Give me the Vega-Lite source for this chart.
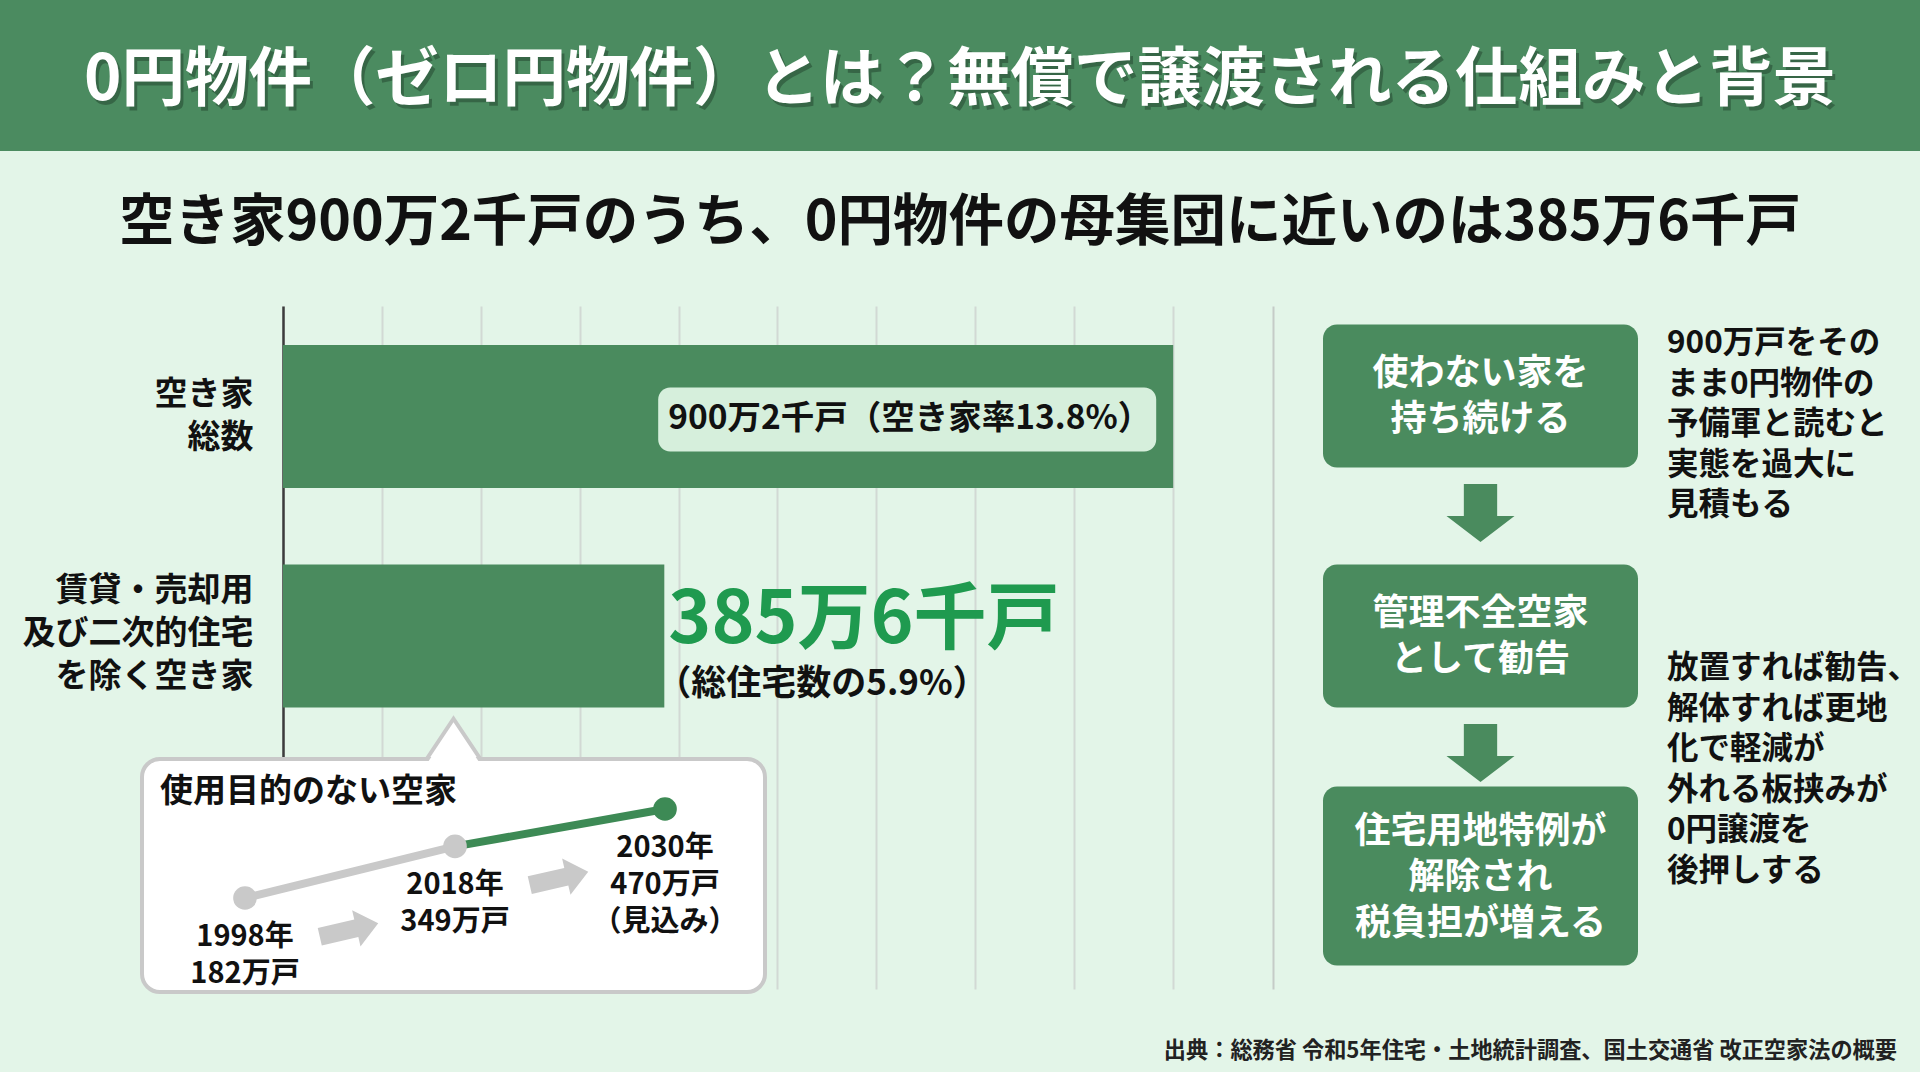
{
  "$schema": "https://vega.github.io/schema/vega-lite/v6.json",
  "width": 1920,
  "height": 1072,
  "autosize": {"type": "fit", "contains": "padding"},
  "padding": 0,
  "background": "#e3f5e8",
  "config": {
    "view": {"stroke": null},
    "font": "Noto Sans CJK JP",
    "text": {"font": "Noto Sans CJK JP", "fontWeight": "bold"},
    "axis": {"labelFont": "Noto Sans CJK JP"}
  },
  "resolve": {"scale": {"x": "independent", "y": "independent"}},
  "layer": [
    {
      "data": {"values": [{"band": "header", "title": "0円物件（ゼロ円物件）とは？無償で譲渡される仕組みと背景"}]},
      "encoding": {
        "x": {"field": "band", "type": "nominal", "axis": null, "scale": {"type": "band", "range": [0, 1920], "paddingInner": 0, "paddingOuter": 0}},
        "y": {"field": "band", "type": "nominal", "axis": null, "scale": {"type": "band", "range": [0, 151], "paddingInner": 0, "paddingOuter": 0}}
      },
      "layer": [
        {"mark": {"type": "rect", "color": "#4b8b60"}},
        {"mark": {"type": "text", "fontSize": 63.5, "color": "#1d3b27", "opacity": 0.45, "dx": 3, "dy": 9}, "encoding": {"text": {"field": "title"}}},
        {"mark": {"type": "text", "fontSize": 63.5, "color": "#ffffff", "dy": 5}, "encoding": {"text": {"field": "title"}}}
      ]
    },
    {
      "data": {"values": [{"band": "subtitle", "text": "空き家900万2千戸のうち、0円物件の母集団に近いのは385万6千戸"}]},
      "mark": {"type": "text", "fontSize": 55.5, "color": "#111111"},
      "encoding": {
        "x": {"field": "band", "type": "nominal", "axis": null, "scale": {"type": "band", "range": [0, 1920], "paddingInner": 0, "paddingOuter": 0}},
        "y": {"field": "band", "type": "nominal", "axis": null, "scale": {"type": "band", "range": [151, 295], "paddingInner": 0, "paddingOuter": 0}},
        "text": {"field": "text"}
      }
    },
    {
      "data": {"values": [
        {"kind": "total", "category": "空き家\n総数", "value": 900.2, "label": "900万2千戸（空き家率13.8%）", "note": ""},
        {"kind": "subset", "category": "賃貸・売却用\n及び二次的住宅\nを除く空き家", "value": 385.6, "label": "385万6千戸", "note": "（総住宅数の5.9%）"}
      ]},
      "encoding": {
        "x": {
          "field": "value", "type": "quantitative",
          "scale": {"domain": [0, 900], "range": [283, 1173], "nice": false, "zero": true},
          "axis": {"title": null, "orient": "top", "values": [0, 100, 200, 300, 400, 500, 600, 700, 800, 900], "labels": false, "ticks": false, "domain": false, "grid": true, "gridColor": "#d2d9d4", "gridWidth": 2}
        },
        "y": {
          "field": "category", "type": "nominal", "sort": null, "axis": null,
          "scale": {"type": "band", "range": [306, 989], "paddingInner": 0.349, "paddingOuter": 0.73, "align": 0.1216}
        }
      },
      "layer": [
        {
          "mark": {"type": "bar", "color": "#4a8b5e"},
          "encoding": {
            "y": {
              "field": "category", "type": "nominal", "sort": null,
              "axis": {
                "title": null, "orient": "left", "offset": -283, "ticks": false, "tickSize": 0, "grid": false,
                "domainColor": "#3c3c3c", "domainWidth": 2.5,
                "labelFontSize": 33, "labelFontWeight": "bold", "labelColor": "#111111", "labelPadding": 30, "labelLineHeight": 43, "labelLimit": 0,
                "labelExpr": "split(datum.label, '\\n')",
                "labelOffset": {"condition": {"test": "length(split(datum.label, '\\n')) > 2", "value": -45}, "value": -21}
              }
            }
          }
        },
        {
          "mark": {"type": "bar", "opacity": 0},
          "encoding": {
            "y": {
              "field": "category", "type": "nominal", "sort": null,
              "axis": {"title": null, "orient": "right", "offset": -647, "labels": false, "ticks": false, "grid": false, "domainColor": "#c5ccc7", "domainWidth": 2}
            }
          }
        },
        {
          "transform": [{"filter": "datum.kind == 'total'"}],
          "mark": {"type": "rect", "width": 498, "height": 64, "xOffset": -266, "yOffset": 3, "cornerRadius": 12, "color": "#d6efdc"}
        },
        {
          "transform": [{"filter": "datum.kind == 'total'"}],
          "mark": {"type": "text", "align": "right", "baseline": "middle", "dx": -22, "dy": 3, "fontSize": 33.5, "color": "#111111"},
          "encoding": {"text": {"field": "label"}}
        },
        {
          "transform": [{"filter": "datum.kind == 'subset'"}],
          "mark": {"type": "text", "align": "left", "baseline": "middle", "dx": 4, "dy": -15, "fontSize": 73, "color": "#1f9a4f"},
          "encoding": {"text": {"field": "label"}}
        },
        {
          "transform": [{"filter": "datum.kind == 'subset'"}],
          "mark": {"type": "text", "align": "left", "baseline": "middle", "dx": -8, "dy": 48, "fontSize": 35, "color": "#111111"},
          "encoding": {"text": {"field": "note"}}
        }
      ]
    },
    {
      "data": {"values": [{"panel": "使用目的のない空家"}]},
      "encoding": {
        "x": {"field": "panel", "type": "nominal", "axis": null, "scale": {"type": "band", "range": [142, 765], "paddingInner": 0, "paddingOuter": 0}},
        "y": {"field": "panel", "type": "nominal", "axis": null, "scale": {"type": "band", "range": [759, 992], "paddingInner": 0, "paddingOuter": 0}}
      },
      "layer": [
        {
          "mark": {"type": "point", "shape": "M-1,0.75L0,-0.75L1,0.75Z", "size": 2916, "filled": true, "fill": "#ffffff", "stroke": "#c9c9c9", "strokeWidth": 4, "opacity": 1, "yOffset": -20},
          "encoding": {"y": {"field": "panel", "type": "nominal", "axis": null, "bandPosition": 0}}
        },
        {"mark": {"type": "rect", "fill": "#ffffff", "stroke": "#c9c9c9", "strokeWidth": 4, "cornerRadius": 18}},
        {
          "mark": {"type": "point", "shape": "M-1,0.75L0,-0.75L1,0.75Z", "size": 2916, "filled": true, "fill": "#ffffff", "strokeWidth": 0, "opacity": 1, "yOffset": -15},
          "encoding": {"y": {"field": "panel", "type": "nominal", "axis": null, "bandPosition": 0}}
        },
        {
          "mark": {"type": "text", "align": "left", "baseline": "middle", "dx": 18, "dy": 33, "fontSize": 33, "color": "#111111"},
          "encoding": {
            "x": {"field": "panel", "type": "nominal", "axis": null, "bandPosition": 0},
            "y": {"field": "panel", "type": "nominal", "axis": null, "bandPosition": 0},
            "text": {"field": "panel"}
          }
        }
      ]
    },
    {
      "data": {"values": [
        {"year": 1998, "value": 182, "label": "1998年\n182万戸"},
        {"year": 2018, "value": 349, "label": "2018年\n349万戸"},
        {"year": 2030, "value": 470, "label": "2030年\n470万戸\n（見込み）"}
      ]},
      "encoding": {
        "x": {"field": "year", "type": "ordinal", "axis": null, "scale": {"type": "point", "range": [245, 665], "padding": 0}},
        "y": {"field": "value", "type": "quantitative", "axis": null, "scale": {"domain": [182, 470], "range": [898, 809]}}
      },
      "layer": [
        {"transform": [{"filter": "datum.year <= 2018"}], "mark": {"type": "line", "color": "#c9c9c9", "strokeWidth": 8}},
        {"transform": [{"filter": "datum.year >= 2018"}], "mark": {"type": "line", "color": "#3d8a55", "strokeWidth": 8}},
        {
          "transform": [{"filter": "datum.year < 2030"}],
          "mark": {"type": "point", "shape": "M-1,-0.3L0.25,-0.3L0.25,-0.62L1,0L0.25,0.62L0.25,0.3L-1,0.3Z", "size": 3600, "filled": true, "color": "#c9c9c9", "opacity": 1, "angle": -13, "xOffset": 104, "yOffset": 32}
        },
        {
          "mark": {"type": "circle", "size": 560, "opacity": 1},
          "encoding": {"color": {"condition": {"test": "datum.year == 2030", "value": "#3d8a55"}, "value": "#c9c9c9"}}
        },
        {
          "mark": {"type": "text", "lineBreak": "\n", "baseline": "top", "align": "center", "dy": 25, "fontSize": 29, "lineHeight": 37, "color": "#111111"},
          "encoding": {"text": {"field": "label"}}
        }
      ]
    },
    {
      "data": {"values": [
        {"step": 1, "text": "使わない家を\n持ち続ける"},
        {"step": 2, "text": "管理不全空家\nとして勧告"},
        {"step": 3, "text": "住宅用地特例が\n解除され\n税負担が増える"}
      ]},
      "encoding": {
        "x": {"datum": "流れ", "type": "nominal", "axis": null, "scale": {"type": "band", "range": [1323, 1638], "paddingInner": 0, "paddingOuter": 0}},
        "y": {"field": "step", "type": "ordinal", "axis": null, "scale": {"type": "band", "range": [276, 996], "paddingInner": 0, "paddingOuter": 0}}
      },
      "layer": [
        {"transform": [{"filter": "datum.step < 3"}], "mark": {"type": "rect", "height": 143, "cornerRadius": 14, "color": "#4a8b5e"}},
        {"transform": [{"filter": "datum.step == 3"}], "mark": {"type": "rect", "height": 179, "cornerRadius": 14, "color": "#4a8b5e"}},
        {
          "transform": [{"filter": "datum.step < 3"}],
          "mark": {"type": "point", "shape": "M-0.49,-0.85L0.49,-0.85L0.49,0.09L1,0.09L0,0.85L-1,0.09L-0.49,0.09Z", "size": 4624, "filled": true, "color": "#4a8b5e", "opacity": 1, "yOffset": -3},
          "encoding": {"y": {"field": "step", "type": "ordinal", "axis": null, "bandPosition": 1}}
        },
        {
          "transform": [{"filter": "datum.step < 3"}],
          "mark": {"type": "text", "lineBreak": "\n", "fontSize": 36, "lineHeight": 46, "color": "#ffffff", "baseline": "middle", "align": "center", "dy": -22},
          "encoding": {"text": {"field": "text"}}
        },
        {
          "transform": [{"filter": "datum.step == 3"}],
          "mark": {"type": "text", "lineBreak": "\n", "fontSize": 36, "lineHeight": 46, "color": "#ffffff", "baseline": "middle", "align": "center", "dy": -44},
          "encoding": {"text": {"field": "text"}}
        }
      ]
    },
    {
      "data": {"values": [
        {"note": "900万戸をその\nまま0円物件の\n予備軍と読むと\n実態を過大に\n見積もる"},
        {"note": "放置すれば勧告、\n解体すれば更地\n化で軽減が\n外れる板挟みが\n0円譲渡を\n後押しする"}
      ]},
      "mark": {"type": "text", "lineBreak": "\n", "align": "left", "baseline": "middle", "fontSize": 31.5, "lineHeight": 40.5, "color": "#111111"},
      "encoding": {
        "x": {"datum": "注記", "type": "nominal", "bandPosition": 0, "axis": null, "scale": {"type": "band", "range": [1667, 1920], "paddingInner": 0, "paddingOuter": 0}},
        "y": {"field": "note", "type": "nominal", "sort": null, "axis": null, "scale": {"type": "band", "range": [181.5, 831.5], "paddingInner": 0, "paddingOuter": 0}},
        "text": {"field": "note"}
      }
    },
    {
      "data": {"values": [{"source": "出典：総務省 令和5年住宅・土地統計調査、国土交通省 改正空家法の概要"}]},
      "mark": {"type": "text", "align": "right", "baseline": "middle", "fontSize": 22.2, "color": "#222222"},
      "encoding": {
        "x": {"field": "source", "type": "nominal", "bandPosition": 1, "axis": null, "scale": {"type": "band", "range": [0, 1897], "paddingInner": 0, "paddingOuter": 0}},
        "y": {"field": "source", "type": "nominal", "axis": null, "scale": {"type": "band", "range": [1030, 1072], "paddingInner": 0, "paddingOuter": 0}},
        "text": {"field": "source"}
      }
    }
  ]
}
